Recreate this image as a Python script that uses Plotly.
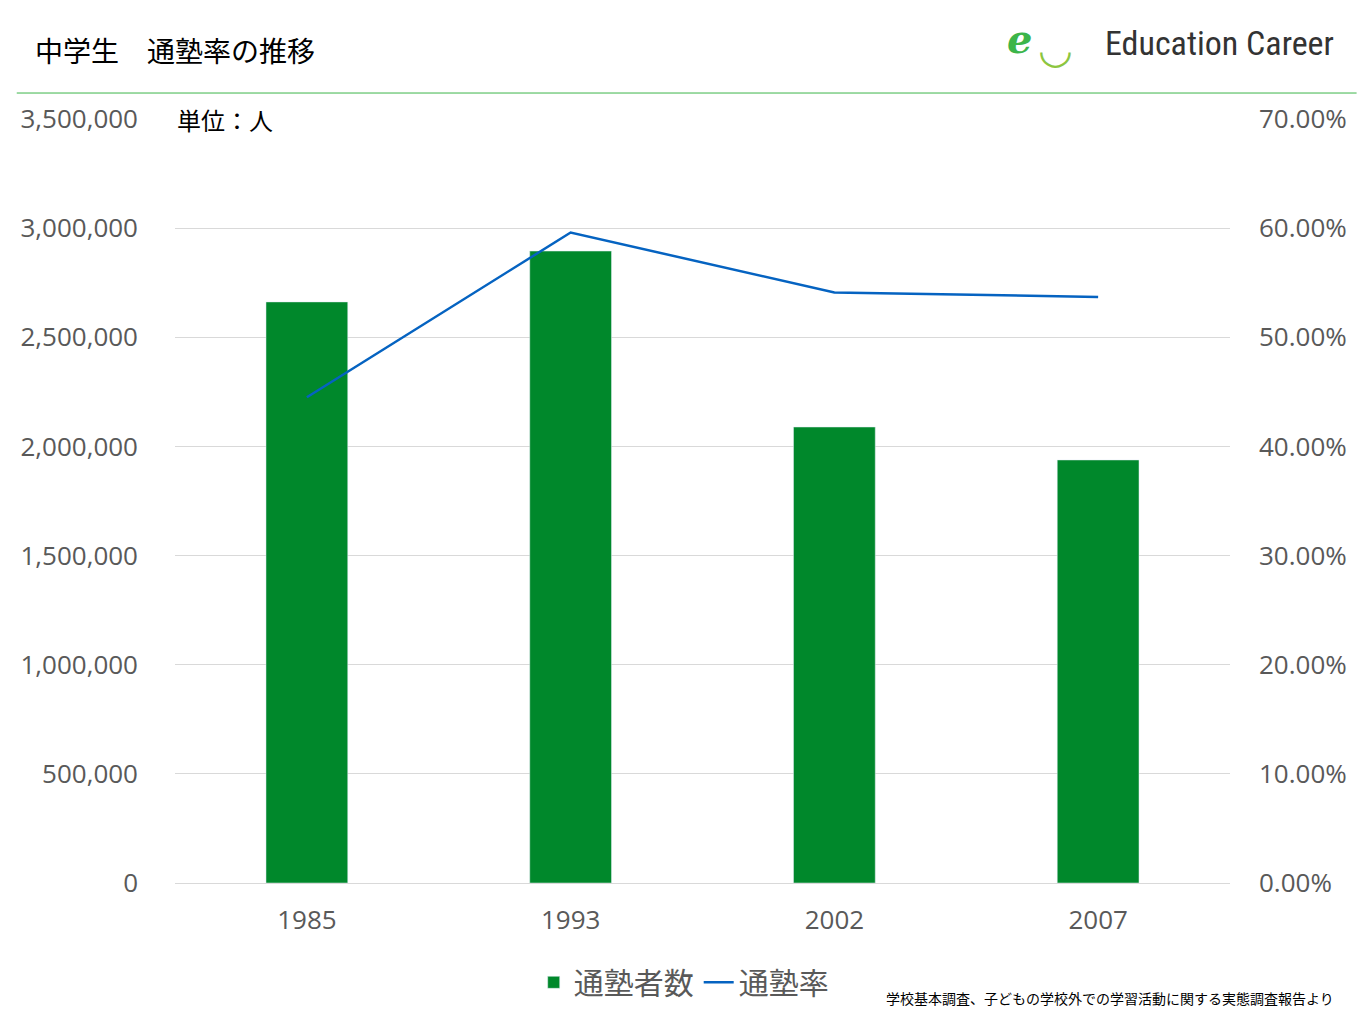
import plotly.graph_objects as go

years = ["1985", "1993", "2002", "2007"]
students = [2662000, 2895000, 2089000, 1938000]
rates = [0.445, 0.596, 0.541, 0.537]

left_ticks = [0, 500000, 1000000, 1500000, 2000000, 2500000, 3000000, 3500000]
right_ticks = [0, 0.1, 0.2, 0.3, 0.4, 0.5, 0.6, 0.7]

font = "Noto Sans CJK JP"
fig = go.Figure()
fig.add_trace(go.Bar(x=years, y=students, name="通塾者数", marker_color="#00882b", width=0.31))
fig.add_trace(go.Scatter(x=years, y=rates, name="通塾率", yaxis="y2", mode="lines",
                         line=dict(color="#0563c1", width=2.5)))

fig.update_layout(
    width=1365, height=1024,
    margin=dict(l=152, r=143, t=111, b=149),
    plot_bgcolor="white", paper_bgcolor="white",
    font=dict(family=font, color="#595959"),
    bargap=0.69,
    xaxis=dict(tickfont=dict(size=26, family="Open Sans"), showline=True, linecolor="#d9d9d9",
               ticks="", ticklabelstandoff=14),
    yaxis=dict(range=[0, 3500000], tickvals=left_ticks, tickformat=",d",
               tickfont=dict(size=26, family="Open Sans"), gridcolor="#d9d9d9", zeroline=False,
               ticklabelstandoff=36),
    yaxis2=dict(range=[0, 0.7], tickvals=right_ticks, tickformat=".2%", overlaying="y",
                side="right", showgrid=False, tickfont=dict(size=26, family="Open Sans"),
                ticklabelstandoff=28),
    legend=dict(orientation="h", x=0.34, y=-0.13, xanchor="left", yanchor="middle",
                font=dict(size=30, color="#595959"), itemwidth=30, tracegroupgap=0),
    showlegend=True,
)
fig.add_annotation(text="中学生　通塾率の推移", xref="paper", yref="paper", x=-0.135, y=1.09,
                   xanchor="left", yanchor="middle", showarrow=False,
                   font=dict(size=28, color="black", family=font))
fig.add_annotation(text="単位：人", xref="paper", yref="paper", x=0.0, y=1.0,
                   xanchor="left", yanchor="middle", showarrow=False,
                   font=dict(size=24, color="black", family=font))
fig.add_annotation(text="Education Career", xref="paper", yref="paper", x=1.1, y=1.1,
                   xanchor="right", yanchor="middle", showarrow=False,
                   font=dict(size=34, color="#333333", family="Roboto Condensed, Roboto"))
fig.add_annotation(text="<i><b>e</b></i>", xref="paper", yref="paper", x=0.8, y=1.105,
                   xanchor="center", yanchor="middle", showarrow=False,
                   font=dict(size=40, color="#3cb54a", family="DejaVu Serif"))
fig.add_annotation(text="◡", xref="paper", yref="paper", x=0.835, y=1.095,
                   xanchor="center", yanchor="middle", showarrow=False,
                   font=dict(size=40, color="#8cc63f"))
fig.add_annotation(text="学校基本調査、子どもの学校外での学習活動に関する実態調査報告より",
                   xref="paper", yref="paper", x=1.1, y=-0.15, xanchor="right", yanchor="middle",
                   showarrow=False, font=dict(size=14, color="black", family=font))
fig.add_shape(type="line", xref="paper", yref="paper", x0=-0.15, x1=1.12, y0=1.034, y1=1.034,
              line=dict(color="#3cb54a", width=1))
fig.write_html("out.html")
